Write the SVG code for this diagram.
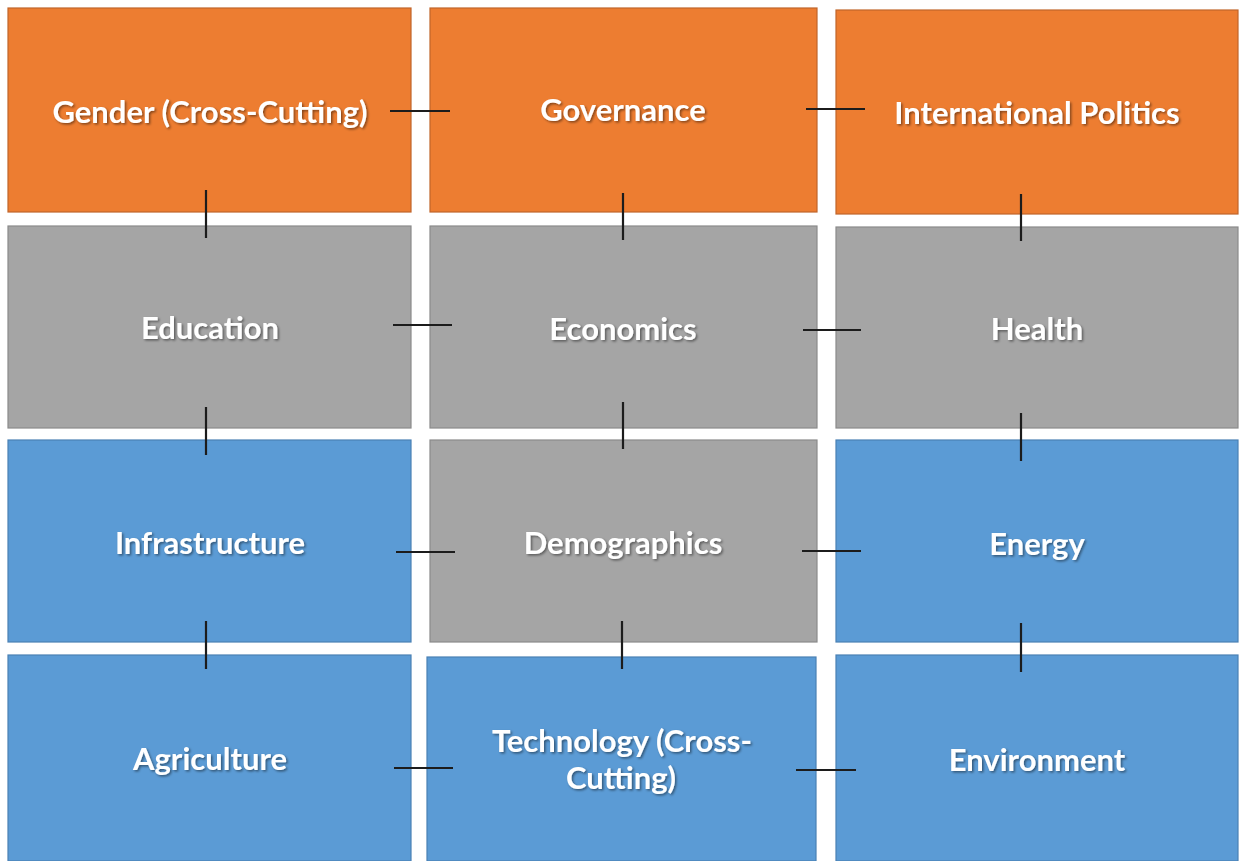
<svg xmlns="http://www.w3.org/2000/svg" width="1239" height="861" viewBox="0 0 1239 861">
  <defs>
    <filter id="shadow" x="-10%" y="-30%" width="120%" height="160%">
      <feDropShadow dx="1.5" dy="1.5" stdDeviation="1" flood-color="#000" flood-opacity="0.45"/>
    </filter>
    <style>
      .box { stroke-width: 1.2; }
      .orange { fill: #ED7D31; stroke: #C0652A; }
      .gray { fill: #A5A5A5; stroke: #8A8A8A; }
      .blue { fill: #5B9BD5; stroke: #4A80B4; }
      .label { font-family: Lato, "Open Sans", "Liberation Sans", sans-serif; font-weight: bold; font-size: 31px; fill: #FFFFFF; text-anchor: middle; dominant-baseline: central; filter: url(#shadow); }
      .link { stroke: #1C1C1C; stroke-width: 2.2; fill: none; }
    </style>
  </defs>
  <rect width="1239" height="861" fill="#FFFFFF"/>

  <!-- Row 1 -->
  <g id="gender">
    <rect class="box orange" x="8" y="8" width="403" height="204"/>
    <text class="label" x="210" y="111">Gender (Cross-Cutting)</text>
  </g>
  <g id="governance">
    <rect class="box orange" x="430" y="8" width="387" height="204"/>
    <text class="label" x="623" y="109">Governance</text>
  </g>
  <g id="international-politics">
    <rect class="box orange" x="836" y="10" width="402" height="204"/>
    <text class="label" x="1037" y="112">International Politics</text>
  </g>

  <!-- Row 2 -->
  <g id="education">
    <rect class="box gray" x="8" y="226" width="403" height="202"/>
    <text class="label" x="210" y="327">Education</text>
  </g>
  <g id="economics">
    <rect class="box gray" x="430" y="226" width="387" height="202"/>
    <text class="label" x="623" y="328">Economics</text>
  </g>
  <g id="health">
    <rect class="box gray" x="836" y="227" width="402" height="201"/>
    <text class="label" x="1037" y="328">Health</text>
  </g>

  <!-- Row 3 -->
  <g id="infrastructure">
    <rect class="box blue" x="8" y="440" width="403" height="202"/>
    <text class="label" x="210" y="542">Infrastructure</text>
  </g>
  <g id="demographics">
    <rect class="box gray" x="430" y="440" width="387" height="202"/>
    <text class="label" x="623" y="542">Demographics</text>
  </g>
  <g id="energy">
    <rect class="box blue" x="836" y="440" width="402" height="202"/>
    <text class="label" x="1037" y="543">Energy</text>
  </g>

  <!-- Row 4 -->
  <g id="agriculture">
    <rect class="box blue" x="8" y="655" width="403" height="206"/>
    <text class="label" x="210" y="758">Agriculture</text>
  </g>
  <g id="technology">
    <rect class="box blue" x="427" y="657" width="389" height="204"/>
    <text class="label" x="622" y="740">Technology (Cross-</text>
    <text class="label" x="621" y="777">Cutting)</text>
  </g>
  <g id="environment">
    <rect class="box blue" x="836" y="655" width="402" height="206"/>
    <text class="label" x="1037" y="759">Environment</text>
  </g>

  <!-- Connectors -->
  <g id="connectors">
    <line class="link" x1="390" y1="111" x2="450" y2="111"/>
    <line class="link" x1="806" y1="109" x2="865" y2="109"/>
    <line class="link" x1="206" y1="190" x2="206" y2="238"/>
    <line class="link" x1="623" y1="193" x2="623" y2="240"/>
    <line class="link" x1="1021" y1="194" x2="1021" y2="241"/>
    <line class="link" x1="393" y1="325" x2="452" y2="325"/>
    <line class="link" x1="803" y1="330" x2="861" y2="330"/>
    <line class="link" x1="206" y1="407" x2="206" y2="455"/>
    <line class="link" x1="623" y1="402" x2="623" y2="449"/>
    <line class="link" x1="1021" y1="413" x2="1021" y2="461"/>
    <line class="link" x1="396" y1="552" x2="455" y2="552"/>
    <line class="link" x1="802" y1="551" x2="861" y2="551"/>
    <line class="link" x1="206" y1="621" x2="206" y2="669"/>
    <line class="link" x1="622" y1="621" x2="622" y2="669"/>
    <line class="link" x1="1021" y1="623" x2="1021" y2="672"/>
    <line class="link" x1="394" y1="768" x2="453" y2="768"/>
    <line class="link" x1="796" y1="770" x2="856" y2="770"/>
  </g>
</svg>
